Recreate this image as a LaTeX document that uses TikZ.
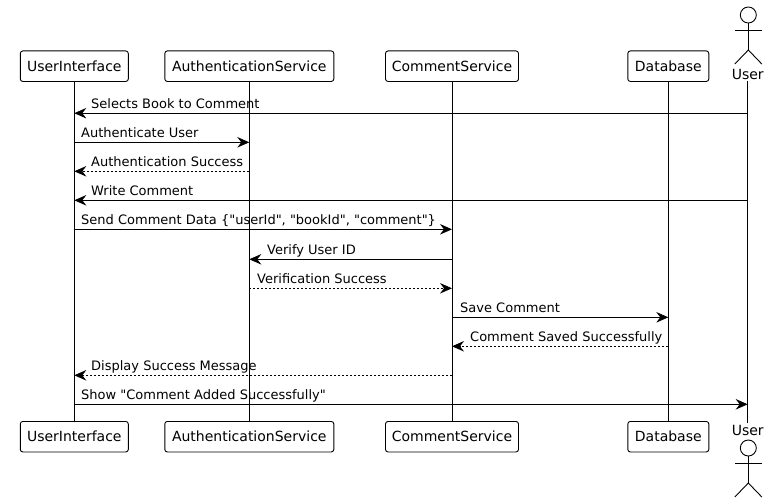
\documentclass[tikz,border=0pt]{standalone}
\usepackage{fontspec}
\newfontfamily\dv{DejaVu Sans}
\usetikzlibrary{arrows.meta}
\tikzset{
  x=1pt,y=-1pt,
  part/.style={draw=black,fill=white,rounded corners=2.5pt,line width=0.9pt,minimum height=30.5pt,inner sep=0pt,font=\dv\fontsize{14}{16}\selectfont,text=black},
  life/.style={line width=0.9pt,black},
  msg/.style={line width=0.9pt,black,-{Stealth[length=12pt,width=10.5pt,inset=4pt]}},
  ret/.style={msg,dash pattern=on 2pt off 2pt},
  lbl/.style={anchor=base west,inner sep=0pt,font=\dv\fontsize{13}{15}\selectfont,text=black},
  actorline/.style={line width=0.9pt,black},
  actorname/.style={inner sep=0pt,font=\dv\fontsize{14}{16}\selectfont,text=black},
}
\newcommand{\actorfig}[2]{%
  \draw[actorline] (#1,#2) circle (8pt);
  \draw[actorline] (#1,#2+8) -- (#1,#2+35);
  \draw[actorline] (#1-13.5,#2+15) -- (#1+13.5,#2+15);
  \draw[actorline] (#1-13.5,#2+49) -- (#1,#2+35) -- (#1+13.5,#2+49);
}
\begin{document}
\begin{tikzpicture}
\useasboundingbox (0,0) rectangle (767,503);
\fill[white] (0,0) rectangle (767,503);
% top participants
\node[part,minimum width=108pt] (ui) at (74.3,66.2) {UserInterface};
\node[part,minimum width=169pt] (auth) at (249.3,66.2) {AuthenticationService};
\node[part,minimum width=133pt] (cs) at (452,66.2) {CommentService};
\node[part,minimum width=81pt] (db) at (668.3,66.2) {Database};
\node[actorname,anchor=base] (user) at (747.7,79) {User};
% bottom participants
\node[part,minimum width=108pt] (uib) at (74.3,436.7) {UserInterface};
\node[part,minimum width=169pt] (authb) at (249.3,436.7) {AuthenticationService};
\node[part,minimum width=133pt] (csb) at (452,436.7) {CommentService};
\node[part,minimum width=81pt] (dbb) at (668.3,436.7) {Database};
\node[actorname,anchor=base] (userb) at (747.7,435) {User};
\actorfig{748.3}{15}
\actorfig{748.3}{448}
% lifelines
\draw[life] (ui.south) -- (uib.north);
\draw[life] (auth.south) -- (authb.north);
\draw[life] (cs.south) -- (csb.north);
\draw[life] (db.south) -- (dbb.north);
\coordinate (ut) at (747.7,81);
\coordinate (ub) at (747.7,423);
\draw[life] (ut) -- (ub);
% rows
\coordinate (r1) at (0,113.2);
\coordinate (r2) at (0,142.3);
\coordinate (r3) at (0,171.3);
\coordinate (r4) at (0,200.3);
\coordinate (r5) at (0,229.3);
\coordinate (r6) at (0,259.3);
\coordinate (r7) at (0,288.3);
\coordinate (r8) at (0,317.3);
\coordinate (r9) at (0,346.3);
\coordinate (r10) at (0,375.3);
\coordinate (r11) at (0,404.3);
% messages
\draw[msg] (ut |- r1) -- (ui |- r1);
\draw[msg] (ui |- r2) -- (auth |- r2);
\draw[ret] (auth |- r3) -- (ui |- r3);
\draw[msg] (ut |- r4) -- (ui |- r4);
\draw[msg] (ui |- r5) -- (cs |- r5);
\draw[msg] (cs |- r6) -- (auth |- r6);
\draw[ret] (auth |- r7) -- (cs |- r7);
\draw[msg] (cs |- r8) -- (db |- r8);
\draw[ret] (db |- r9) -- (cs |- r9);
\draw[ret] (cs |- r10) -- (ui |- r10);
\draw[msg] (ui |- r11) -- (ut |- r11);
% labels
\node[lbl] (l1) at (91,108) {Selects Book to Comment};
\node[lbl] (l2) at (81,137) {Authenticate User};
\node[lbl] (l3) at (91,166) {Authentication Success};
\node[lbl] (l4) at (91,195) {Write Comment};
\node[lbl] (l5) at (81,224) {Send Comment Data \{"userId", "bookId", "comment"\}};
\node[lbl] (l6) at (267,254) {Verify User ID};
\node[lbl] (l7) at (257,283) {Verification Success};
\node[lbl] (l8) at (460,312) {Save Comment};
\node[lbl] (l9) at (470,341) {Comment Saved Successfully};
\node[lbl] (l10) at (91,370) {Display Success Message};
\node[lbl] (l11) at (81,399) {Show "Comment Added Successfully"};
\end{tikzpicture}
\end{document}
